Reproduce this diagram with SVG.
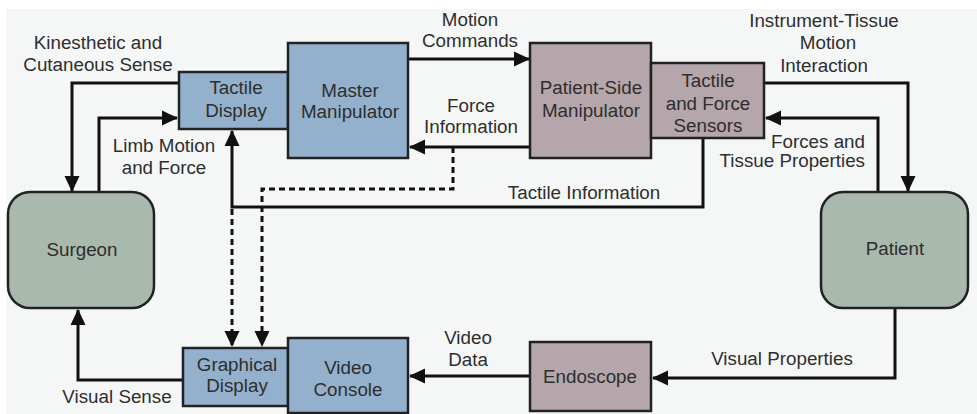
<svg xmlns="http://www.w3.org/2000/svg" width="977" height="414" viewBox="0 0 977 414">
<defs>
<style>
.bg{fill:#f5f7f7}
.blue{fill:#93b1cc;stroke:#222;stroke-width:2.5}
.mauve{fill:#b4a6ab;stroke:#222;stroke-width:2.5}
.green{fill:#a9b9ad;stroke:#222;stroke-width:2.5}
text{font-family:"Liberation Sans",Arial,sans-serif;font-size:18.8px;fill:#2e2e2e;text-anchor:middle}
.end{text-anchor:end}
.ln{fill:none;stroke:#111;stroke-width:3}
.dash{fill:none;stroke:#111;stroke-width:3;stroke-dasharray:6,4}
</style>
<marker id="ah" viewBox="0 0 16 16" refX="15" refY="8" markerWidth="16" markerHeight="16" markerUnits="userSpaceOnUse" orient="auto">
<path d="M0,0.5 L16,8 L0,15.5 Z" fill="#111"/>
</marker>
</defs>
<rect class="bg" x="6" y="9" width="971" height="405"/>
<g id="connectors">
<polyline class="ln" points="179,83 72,83 72,191" marker-end="url(#ah)"/>
<polyline class="ln" points="99,192 99,118 177,118" marker-end="url(#ah)"/>
<polyline class="ln" points="408,59 529,59" marker-end="url(#ah)"/>
<polyline class="ln" points="530,147 410,147" marker-end="url(#ah)"/>
<polyline class="ln" points="703,138 703,207 232,207 232,131" marker-end="url(#ah)"/>
<polyline class="dash" points="453,147 453,189 262,189 262,346" marker-end="url(#ah)"/>
<polyline class="dash" points="232,209 232,346" marker-end="url(#ah)"/>
<polyline class="ln" points="764,83 908,83 908,191" marker-end="url(#ah)"/>
<polyline class="ln" points="878,192 878,118 766,118" marker-end="url(#ah)"/>
<polyline class="ln" points="895,308 895,378 653,378" marker-end="url(#ah)"/>
<polyline class="ln" points="530,376 410,376" marker-end="url(#ah)"/>
<polyline class="ln" points="183,380 78,380 78,310" marker-end="url(#ah)"/>
</g>
<g id="labels">
<text x="98" y="49">Kinesthetic and</text>
<text x="98" y="71">Cutaneous Sense</text>
<text x="164" y="152">Limb Motion</text>
<text x="164" y="174">and Force</text>
<text x="470" y="26">Motion</text>
<text x="470" y="47">Commands</text>
<text x="471" y="112">Force</text>
<text x="471" y="133">Information</text>
<text x="584" y="199">Tactile Information</text>
<text x="824" y="27">Instrument-Tissue</text>
<text x="828" y="49">Motion</text>
<text x="824" y="72">Interaction</text>
<text class="end" x="865" y="148">Forces and</text>
<text class="end" x="865" y="167">Tissue Properties</text>
<text x="117" y="403">Visual Sense</text>
<text x="468" y="344">Video</text>
<text x="468" y="366">Data</text>
<text x="782" y="365">Visual Properties</text>
</g>
<g id="surgeon">
<rect class="green" x="8" y="192" width="146" height="116" rx="22"/>
<text x="82" y="256">Surgeon</text>
</g>
<g id="patient">
<rect class="green" x="821" y="192" width="147" height="116" rx="22"/>
<text x="895" y="255">Patient</text>
</g>
<g id="tactile-display">
<rect class="blue" x="179" y="72" width="109" height="57"/>
<text x="236" y="94">Tactile</text>
<text x="236" y="117">Display</text>
</g>
<g id="master-manipulator">
<rect class="blue" x="288" y="43" width="120" height="115"/>
<text x="350" y="97">Master</text>
<text x="350" y="118">Manipulator</text>
</g>
<g id="patient-side-manipulator">
<rect class="mauve" x="530" y="43" width="121" height="115"/>
<text x="591" y="94">Patient-Side</text>
<text x="591" y="117">Manipulator</text>
</g>
<g id="sensors">
<rect class="mauve" x="651" y="63" width="113" height="75"/>
<text x="708" y="87">Tactile</text>
<text x="708" y="110">and Force</text>
<text x="708" y="132">Sensors</text>
</g>
<g id="graphical-display">
<rect class="blue" x="183" y="348" width="105" height="58"/>
<text x="237" y="371">Graphical</text>
<text x="237" y="392">Display</text>
</g>
<g id="video-console">
<rect class="blue" x="288" y="338" width="120" height="75"/>
<text x="348" y="374">Video</text>
<text x="348" y="396">Console</text>
</g>
<g id="endoscope">
<rect class="mauve" x="530" y="342" width="121" height="69"/>
<text x="590" y="383">Endoscope</text>
</g>
</svg>
